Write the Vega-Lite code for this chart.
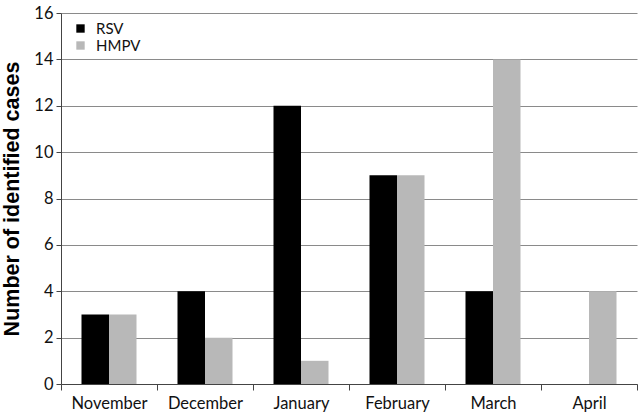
{
  "$schema": "https://vega.github.io/schema/vega-lite/v6.json",
  "autosize": "none",
  "width": 576,
  "height": 371,
  "padding": {"left": 61, "top": 13, "right": 2, "bottom": 30},
  "background": "white",
  "data": {"values": [
    {"month": "November", "virus": "RSV", "cases": 3},
    {"month": "November", "virus": "HMPV", "cases": 3},
    {"month": "December", "virus": "RSV", "cases": 4},
    {"month": "December", "virus": "HMPV", "cases": 2},
    {"month": "January", "virus": "RSV", "cases": 12},
    {"month": "January", "virus": "HMPV", "cases": 1},
    {"month": "February", "virus": "RSV", "cases": 9},
    {"month": "February", "virus": "HMPV", "cases": 9},
    {"month": "March", "virus": "RSV", "cases": 4},
    {"month": "March", "virus": "HMPV", "cases": 14},
    {"month": "April", "virus": "RSV", "cases": 0},
    {"month": "April", "virus": "HMPV", "cases": 4}
  ]},
  "mark": {"type": "bar"},
  "encoding": {
    "x": {
      "field": "month", "type": "nominal",
      "sort": ["November", "December", "January", "February", "March", "April"],
      "scale": {"paddingInner": 0, "paddingOuter": 0},
      "axis": {
        "title": null, "labelAngle": 0, "tickBand": "extent",
        "labelFont": "Lato", "labelFontSize": 16.5, "labelColor": "#111",
        "labelPadding": 5, "tickSize": 6, "tickColor": "#444",
        "domainColor": "#444", "grid": false
      }
    },
    "xOffset": {
      "field": "virus", "type": "nominal", "sort": ["RSV", "HMPV"],
      "scale": {"paddingOuter": 0.745, "paddingInner": 0}
    },
    "y": {
      "field": "cases", "type": "quantitative",
      "scale": {"domain": [0, 16]},
      "axis": {
        "title": "Number of identified cases",
        "titleFont": "Liberation Sans", "titleFontSize": 21.5, "titleFontWeight": "bold",
        "titleColor": "#000", "titlePadding": 10,
        "values": [0, 2, 4, 6, 8, 10, 12, 14, 16],
        "labelFont": "Lato", "labelFontSize": 16.5, "labelColor": "#111",
        "tickSize": 5, "tickColor": "#444", "domainColor": "#444",
        "gridColor": "#8a8a8a", "gridWidth": 1, "labelPadding": 3
      }
    },
    "color": {
      "field": "virus", "type": "nominal",
      "scale": {"domain": ["RSV", "HMPV"], "range": ["#000000", "#b8b8b8"]},
      "legend": {
        "title": null, "orient": "none", "legendX": 12, "legendY": 8,
        "symbolType": "square", "symbolSize": 70, "symbolStrokeWidth": 0,
        "labelFont": "Lato", "labelFontSize": 15, "labelColor": "#111",
        "rowPadding": 1, "labelOffset": 8
      }
    }
  },
  "config": {"view": {"stroke": null}, "bar": {"opacity": 1}}
}
